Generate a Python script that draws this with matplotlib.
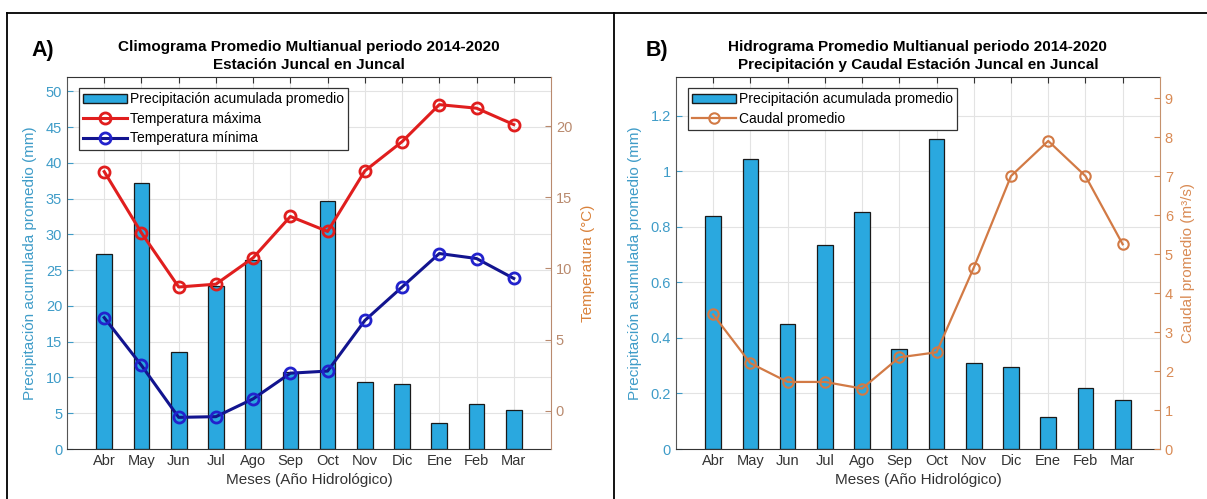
import matplotlib.pyplot as plt
import numpy as np
from matplotlib.lines import Line2D
from matplotlib.patches import Patch

plt.rcParams['font.family'] = ['Liberation Sans', 'DejaVu Sans']

meses = ['Abr', 'May', 'Jun', 'Jul', 'Ago', 'Sep', 'Oct', 'Nov', 'Dic', 'Ene', 'Feb', 'Mar']

# panel A
precip_a = [27.2, 37.2, 13.6, 22.8, 26.4, 10.8, 34.7, 9.4, 9.1, 3.6, 6.3, 5.5]
tmax = [16.8, 12.5, 8.7, 8.9, 10.75, 13.65, 12.6, 16.85, 18.9, 21.5, 21.25, 20.1]
tmin = [6.55, 3.2, -0.45, -0.4, 0.85, 2.65, 2.8, 6.35, 8.7, 11.05, 10.7, 9.3]

# panel B
precip_b = [0.84, 1.045, 0.45, 0.735, 0.855, 0.36, 1.115, 0.31, 0.295, 0.115, 0.22, 0.175]
caudal = [3.45, 2.2, 1.72, 1.72, 1.55, 2.35, 2.48, 4.65, 7.0, 7.9, 7.0, 5.25]

bar_col = '#2aa8df'
left_col = '#3f9cc8'
tick_col = '#333333'
fs = 10.5

x = np.arange(1, 13)

fig = plt.figure(figsize=(12.07, 4.99), dpi=100)


def base_axes(rect, left_lim, left_ticks, right_col):
    ax = fig.add_axes(rect)
    ax.set_xlim(0, 13)
    ax.set_xticks(x)
    ax.set_xticklabels(meses)
    ax.set_ylim(*left_lim)
    ax.set_yticks(left_ticks)
    ax.grid(True, color='#e3e3e3', linewidth=0.8)
    ax.set_axisbelow(True)
    ax.tick_params(axis='x', direction='in', top=True, colors=tick_col, labelsize=fs, length=4)
    ax.tick_params(axis='y', direction='in', colors=left_col, labelsize=fs, length=4)
    ax.spines['left'].set_color('#555555')
    ax.spines['bottom'].set_color('#333333')
    ax.spines['top'].set_color('#333333')
    ax.spines['right'].set_visible(False)
    ax.set_xlabel('Meses (Año Hidrológico)', fontsize=fs + 0.5, color=tick_col, labelpad=4)
    ax.set_ylabel('Precipitación acumulada promedio (mm)', fontsize=fs + 0.5, color=left_col, labelpad=6)
    ax2 = ax.twinx()
    ax2.spines['right'].set_color(right_col)
    for s in ['left', 'top', 'bottom']:
        ax2.spines[s].set_visible(False)
    ax2.tick_params(axis='y', direction='in', colors=right_col, labelsize=fs, length=4)
    return ax, ax2


leg_kw = dict(loc='upper left', bbox_to_anchor=(0.024, 0.97), fontsize=10, fancybox=False,
              edgecolor='#333333', framealpha=1, borderpad=0.3, labelspacing=0.4,
              handlelength=3.2, handletextpad=0.2, borderaxespad=0)

# ---- A ----
axA, axA2 = base_axes([0.0555, 0.1002, 0.401, 0.7455], (0, 52), np.arange(0, 51, 5), '#b98a6e')
axA.bar(x, precip_a, width=0.42, color=bar_col, edgecolor='#1a1a1a', linewidth=0.9)
axA2.set_ylim(-2.67, 23.44)
axA2.set_yticks([0, 5, 10, 15, 20])
axA2.plot(x, tmax, color='#e01e1e', lw=2.2, marker='o', ms=8, mfc='none', mec='#e01e1e', mew=2)
axA2.plot(x, tmin, color='#12148f', lw=2.2, marker='o', ms=8, mfc='none', mec='#2222cc', mew=2)
axA2.set_ylabel('Temperatura (°C)', fontsize=fs + 0.5, color='#d9823b', labelpad=6)
hA = [Patch(facecolor=bar_col, edgecolor='#1a1a1a'),
      Line2D([], [], color='#e01e1e', lw=2.2, marker='o', ms=8, mfc='none', mew=2),
      Line2D([], [], color='#12148f', lw=2.2, marker='o', ms=8, mfc='none', mec='#2222cc', mew=2)]
legA = axA2.legend(hA, ['Precipitación acumulada promedio', 'Temperatura máxima', 'Temperatura mínima'],
                   **leg_kw)
legA.get_frame().set_linewidth(0.9)
axA.set_title('Climograma Promedio Multianual periodo 2014-2020\nEstación Juncal en Juncal',
              fontsize=11, fontweight='bold', pad=6, linespacing=1.3)
fig.text(0.026, 0.888, 'A)', fontsize=15.5, fontweight='bold')

# ---- B ----
axB, axB2 = base_axes([0.560, 0.1002, 0.401, 0.7455], (0, 1.34), [0, 0.2, 0.4, 0.6, 0.8, 1, 1.2], '#c5916c')
axB.set_yticklabels(['0', '0.2', '0.4', '0.6', '0.8', '1', '1.2'])
axB.bar(x, precip_b, width=0.42, color=bar_col, edgecolor='#1a1a1a', linewidth=0.9)
caudal_col = '#d27a45'
axB2.set_ylim(0, 9.54)
axB2.set_yticks(range(10))
axB2.tick_params(axis='y', colors='#d98b55')
axB2.plot(x, caudal, color=caudal_col, lw=1.6, marker='o', ms=7.5, mfc='none', mec=caudal_col, mew=1.5)
axB2.set_ylabel('Caudal promedio (m³/s)', fontsize=fs + 0.5, color='#d98b55', labelpad=6)
hB = [Patch(facecolor=bar_col, edgecolor='#1a1a1a'),
      Line2D([], [], color=caudal_col, lw=1.6, marker='o', ms=7.5, mfc='none', mew=1.5)]
legB = axB2.legend(hB, ['Precipitación acumulada promedio', 'Caudal promedio'], **leg_kw)
legB.get_frame().set_linewidth(0.9)
axB.set_title('Hidrograma Promedio Multianual periodo 2014-2020\nPrecipitación y Caudal Estación Juncal en Juncal',
              fontsize=11, fontweight='bold', pad=6, linespacing=1.3)
fig.text(0.535, 0.888, 'B)', fontsize=15.5, fontweight='bold')

# table-like frame around the two panels
ytop = 1 - 12.5 / 499
fig.add_artist(Line2D([7 / 1207, 1], [ytop, ytop], color='black', lw=1.3))
fig.add_artist(Line2D([7 / 1207, 7 / 1207], [0, ytop], color='black', lw=1.3))
fig.add_artist(Line2D([614 / 1207, 614 / 1207], [0, ytop], color='black', lw=1.3))

fig.savefig('out.png', dpi=100)
